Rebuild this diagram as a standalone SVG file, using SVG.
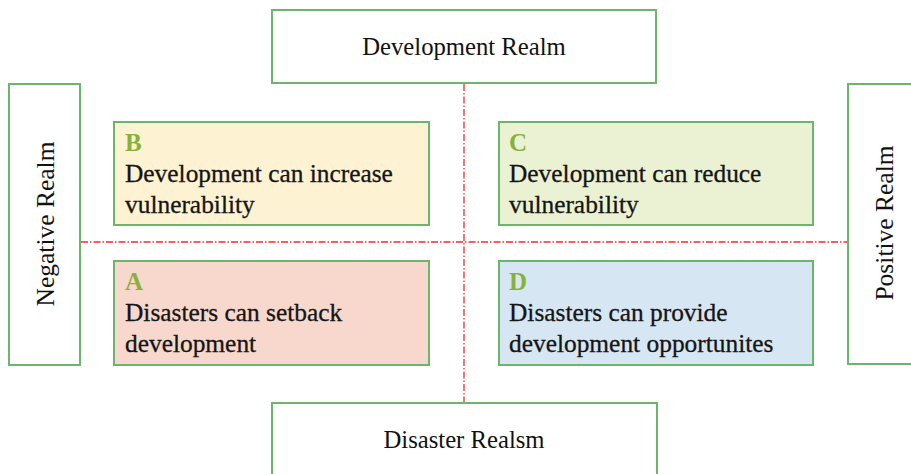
<svg xmlns="http://www.w3.org/2000/svg" width="911" height="474" viewBox="0 0 911 474">
<style>
.box{stroke:#6cb56c;stroke-width:2}
.realm{fill:#ffffff}
.guide{stroke:#ec2f2f;stroke-width:1.3;stroke-dasharray:7 2 1.5 2;fill:none}
text{font-family:"Liberation Serif","Times New Roman",serif;fill:#111111}
.t{font-size:24.7px}
.v{font-size:25.5px}
.q{font-size:25.4px;fill:#151515;stroke:#151515;stroke-width:0.3}
.l{font-size:25px;font-weight:bold;fill:#86b23a}
</style>
<rect width="911" height="474" fill="#ffffff"/>
<g id="connectors">
<line class="guide" x1="464" y1="84" x2="464" y2="403"/>
<line class="guide" x1="81" y1="242" x2="847" y2="242"/>
</g>
<g id="development-realm">
<rect class="box realm" x="272" y="10" width="384" height="73"/>
<text class="t" x="464" y="55" text-anchor="middle">Development Realm</text>
</g>
<g id="disaster-realm">
<rect class="box realm" x="272" y="403" width="385" height="80"/>
<text class="t" x="464" y="448" text-anchor="middle">Disaster Realsm</text>
</g>
<g id="negative-realm">
<rect class="box realm" x="9" y="84" width="71" height="281"/>
<text class="v" transform="translate(54 224) rotate(-90)" text-anchor="middle">Negative Realm</text>
</g>
<g id="positive-realm">
<rect class="box realm" x="848" y="84" width="80" height="280"/>
<text class="v" transform="translate(893 223) rotate(-90)" text-anchor="middle">Positive Realm</text>
</g>
<g id="quadrant-b">
<rect class="box" x="114" y="122" width="315" height="103" fill="#fdf2d2"/>
<text class="l" x="125" y="151">B</text>
<text class="q" x="125" y="182">Development can increase</text>
<text class="q" x="125" y="213">vulnerability</text>
</g>
<g id="quadrant-c">
<rect class="box" x="499" y="122" width="314" height="103" fill="#ebf2d3"/>
<text class="l" x="509" y="151">C</text>
<text class="q" x="509" y="182">Development can reduce</text>
<text class="q" x="509" y="213">vulnerability</text>
</g>
<g id="quadrant-a">
<rect class="box" x="114" y="261" width="315" height="104" fill="#f8d8cc"/>
<text class="l" x="125" y="290">A</text>
<text class="q" x="125" y="321">Disasters can setback</text>
<text class="q" x="125" y="352">development</text>
</g>
<g id="quadrant-d">
<rect class="box" x="499" y="261" width="314" height="104" fill="#d7e6f3"/>
<text class="l" x="509" y="290">D</text>
<text class="q" x="509" y="321">Disasters can provide</text>
<text class="q" x="509" y="352">development opportunites</text>
</g>
</svg>
